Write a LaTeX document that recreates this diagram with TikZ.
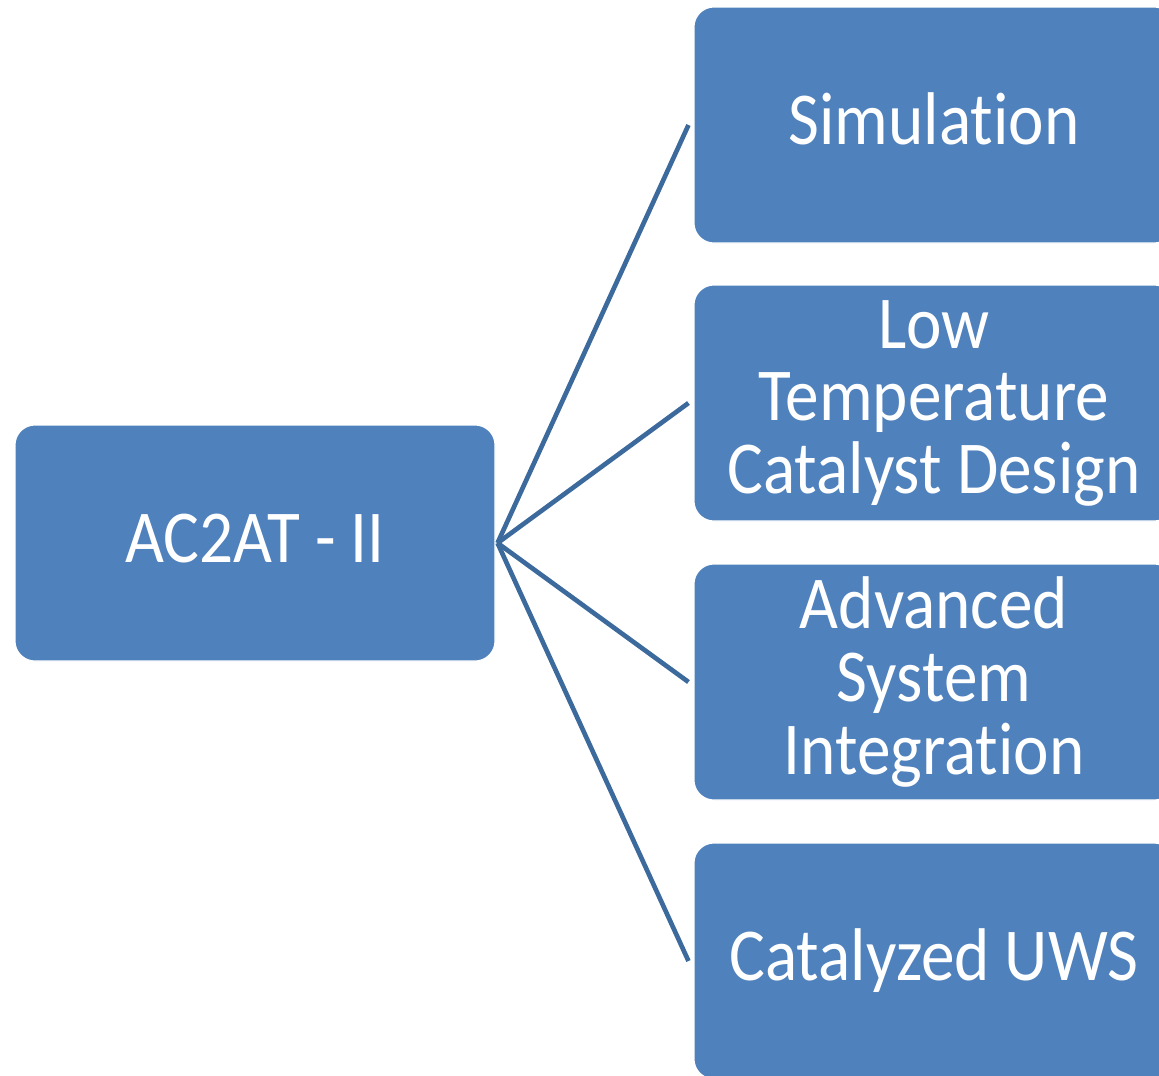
\documentclass[tikz,border=0pt]{standalone}
\usepackage{fontspec}
\setmainfont{Carlito}[FakeStretch=0.9,Ligatures=NoCommon]
\definecolor{boxfill}{HTML}{4F81BD}
\definecolor{linkcol}{HTML}{3D6A9C}
\begin{document}
\begin{tikzpicture}[x=0.75pt,y=-0.75pt,
  box/.style={draw=white,line width=0.8pt,fill=boxfill,rounded corners=15pt,
    minimum width=360pt,minimum height=177pt,inner sep=0pt,align=center,
    text=white,font=\fontsize{56}{54.4}\selectfont},
  single/.style={text height=40pt,text depth=10.8pt},
  link/.style={draw=linkcol,line width=3.5pt}]
\useasboundingbox (0,0) rectangle (1159,1075);
\node[box,single] (root) at (255,543) {AC2AT - II};
\node[box,single] (c1) at (934,125) {Simulation};
\node[box] (c2) at (934,403) {Low\\Temperature\\Catalyst Design};
\node[box] (c3) at (934,682) {Advanced\\System\\Integration};
\node[box,single] (c4) at (934,961) {Catalyzed UWS};
\coordinate (r) at ([xshift=1.5pt]root.east);
\foreach \c in {c1,c2,c3,c4}{
  \coordinate (e\c) at ([xshift=-3.75pt]\c.west);
  \draw[link] (r) -- (e\c);
}
\end{tikzpicture}
\end{document}
